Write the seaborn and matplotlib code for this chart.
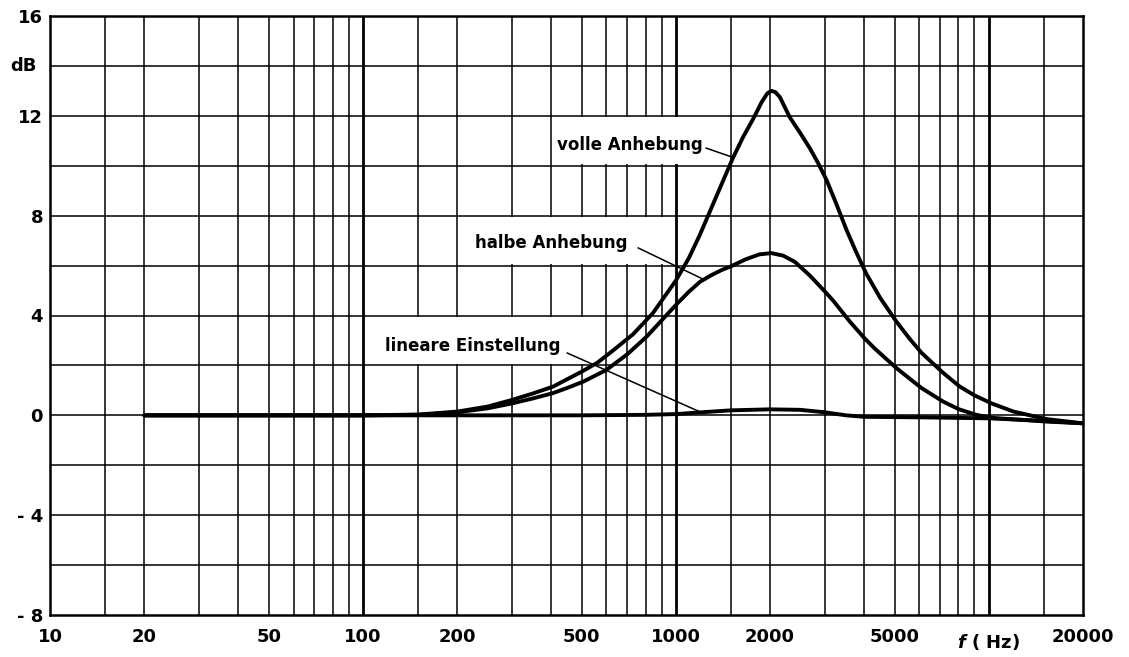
import matplotlib
matplotlib.use("Agg")
import matplotlib.pyplot as plt
import matplotlib.transforms as mtransforms
import seaborn as sns
import pandas as pd
from matplotlib.patches import Rectangle

# ---- data ----
freq_volle = [20, 50, 100, 150, 200, 250, 300, 350, 405, 450, 500, 560, 630, 730, 845, 1000, 1100, 1190,
              1350, 1520, 1640, 1770, 1880, 1960, 2020, 2080, 2150, 2310, 2500, 2680, 2850, 3030, 3250,
              3510, 3750, 4050, 4500, 5070, 5600, 6100, 7150, 8080, 9000, 10200, 12000, 15300, 20000]
db_volle = [0, 0, 0, 0.03, 0.15, 0.35, 0.62, 0.88, 1.15, 1.45, 1.75, 2.1, 2.6, 3.25, 4.1, 5.4, 6.3, 7.2,
            8.8, 10.3, 11.15, 11.9, 12.55, 12.9, 13.0, 12.95, 12.75, 11.95, 11.3, 10.7, 10.1, 9.43, 8.5,
            7.43, 6.6, 5.7, 4.7, 3.75, 3.05, 2.5, 1.7, 1.15, 0.8, 0.48, 0.15, -0.15, -0.32]

freq_halbe = [20, 100, 150, 200, 250, 300, 350, 405, 450, 506, 600, 700, 806, 900, 1005, 1100, 1194, 1300,
              1400, 1500, 1670, 1850, 2020, 2200, 2400, 2680, 3000, 3180, 3600, 4000, 4300, 5070, 6100,
              7150, 8000, 9120, 10200, 15300, 20000]
db_halbe = [0, 0, 0.02, 0.12, 0.28, 0.48, 0.68, 0.89, 1.1, 1.35, 1.82, 2.45, 3.15, 3.8, 4.45, 4.95, 5.35,
            5.62, 5.82, 5.97, 6.25, 6.45, 6.5, 6.4, 6.15, 5.6, 4.95, 4.6, 3.75, 3.1, 2.7, 1.89, 1.09,
            0.55, 0.25, 0.02, -0.1, -0.25, -0.32]

freq_lin = [20, 100, 500, 800, 1000, 1200, 1500, 2000, 2500, 3000, 3500, 4000, 6000, 10000, 15000, 20000]
db_lin = [0, 0, 0, 0.02, 0.05, 0.12, 0.2, 0.24, 0.22, 0.12, 0.0, -0.06, -0.08, -0.12, -0.22, -0.32]

x_ticks = [10, 20, 50, 100, 200, 500, 1000, 2000, 5000, 20000]
x_labels = ["10", "20", "50", "100", "200", "500", "1000", "2000", "5000", "20000"]
y_ticks = [-8, -4, 0, 4, 8, 12, 16]
y_labels = ["- 8", "- 4", "0", "4", "8", "12", "16"]

labels = ["volle Anhebung", "halbe Anhebung", "lineare Einstellung"]

df = pd.concat([
    pd.DataFrame({"f": freq_volle, "dB": db_volle, "curve": labels[0]}),
    pd.DataFrame({"f": freq_halbe, "dB": db_halbe, "curve": labels[1]}),
    pd.DataFrame({"f": freq_lin, "dB": db_lin, "curve": labels[2]}),
])

sns.set_theme(style="white")
plt.rcParams["font.family"] = ["DejaVu Sans"]
plt.rcParams["font.weight"] = "bold"
plt.rcParams["text.color"] = "black"

fig = plt.figure(figsize=(11.29, 6.57), dpi=100)
ax = fig.add_axes([50 / 1129, 1 - 615 / 657, 1033 / 1129, 599 / 657])
ax.set_xscale("log")
ax.set_xlim(10, 20000)
ax.set_ylim(-8, 16)

# grid
minor_pos = []
for dec in [10, 100, 1000, 10000]:
    for m in [1.5, 2, 3, 4, 5, 6, 7, 8, 9]:
        v = dec * m
        if v < 20000:
            minor_pos.append(v)
for v in minor_pos:
    ax.axvline(v, color="black", lw=1.1, zorder=1)
for v in [100, 1000, 10000]:
    ax.axvline(v, color="black", lw=2.0, zorder=1)
for h in range(-6, 16, 2):
    ax.axhline(h, color="black", lw=1.1, zorder=1)

# white label boxes (between grid lines)
boxes = [(400, 1450, 10, 12), (200, 950, 6, 8), (100, 560, 2, 4)]
for x0, x1, y0, y1 in boxes:
    ax.add_patch(Rectangle((x0 * 1.02, y0 + 0.06), x1 - x0 * 1.02, (y1 - y0) - 0.12,
                           facecolor="white", edgecolor="none", zorder=2))

sns.lineplot(data=df, x="f", y="dB", units="curve", estimator=None, color="black",
             lw=2.8, sort=False, ax=ax, zorder=4, legend=False)

# labels + leader lines
txt_kw = dict(fontsize=12, fontweight="bold", va="center", ha="left", zorder=5, color="black")
ax.text(417, 10.85, labels[0], **txt_kw)
ax.text(228, 6.9, labels[1], **txt_kw)
ax.text(117.5, 2.78, labels[2], **txt_kw)
ax.plot([1247, 1510], [10.71, 10.35], color="black", lw=1.1, zorder=5)
ax.plot([757, 1239], [6.71, 5.42], color="black", lw=1.1, zorder=5)
ax.plot([449, 1194], [2.5, 0.14], color="black", lw=1.1, zorder=5)

ax.set_xticks(x_ticks)
ax.set_xticklabels(x_labels)
ax.xaxis.set_minor_locator(matplotlib.ticker.NullLocator())
ax.set_yticks(y_ticks)
ax.set_yticklabels(y_labels)
ax.tick_params(axis="both", length=0, labelsize=13, colors="black")
ax.tick_params(axis="x", pad=9)
ax.tick_params(axis="y", pad=5)
for lab in ax.get_xticklabels() + ax.get_yticklabels():
    lab.set_fontweight("bold")
ax.set_xlabel("")
ax.set_ylabel("")

ax.text(-13 / 1033, 1 - (66 - 16) / 599, "dB", transform=ax.transAxes, ha="right", va="center",
        fontsize=13, fontweight="bold", color="black")
trans = mtransforms.blended_transform_factory(ax.transData, ax.transAxes)
ax.text(10000, -(642 - 615) / 599, r"$\mathit{f}$ ( Hz)", ha="center", va="center", fontsize=13,
        fontweight="bold", transform=trans, color="black")

for s in ax.spines.values():
    s.set_visible(True)
    s.set_color("black")
    s.set_linewidth(1.8)

fig.savefig("out.png", dpi=100)
